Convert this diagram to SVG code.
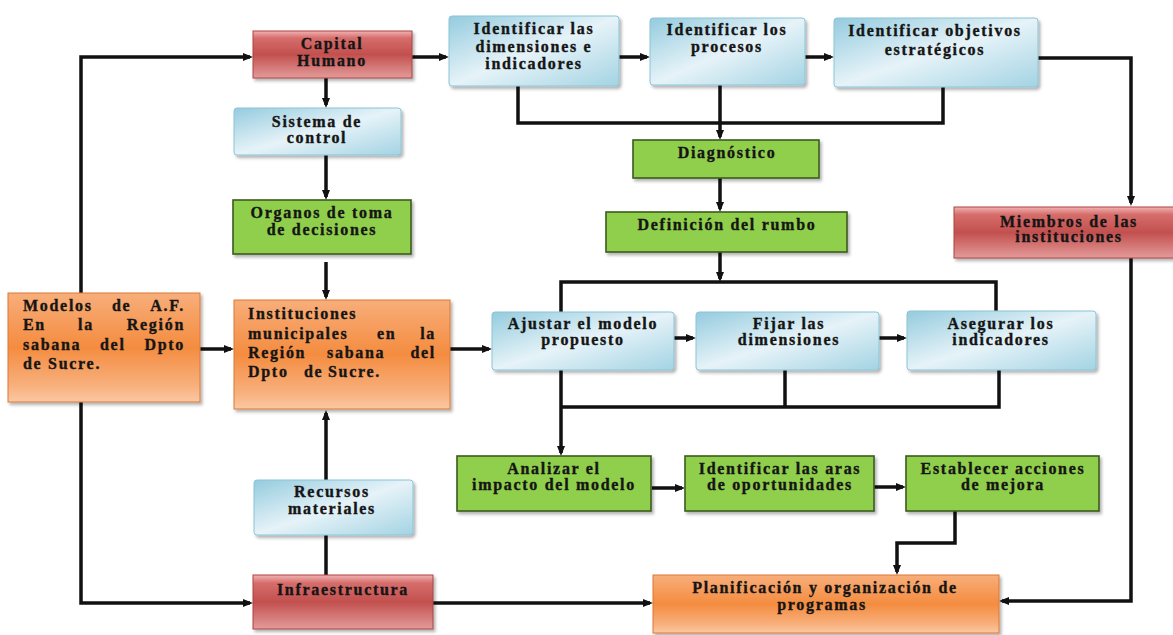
<svg xmlns="http://www.w3.org/2000/svg" width="1173" height="635" viewBox="0 0 1173 635">
<defs>
<style>
.t{font-family:"Liberation Serif","Times New Roman",serif;font-weight:bold;font-size:16px;letter-spacing:1.7px;fill:#151515;stroke:#151515;stroke-width:0.35px}
.c{text-anchor:middle}
.e{text-anchor:end}
.red{fill:url(#gRed);stroke:#a94543;stroke-width:1}
.blue{fill:url(#gBlue);stroke:#8cc4d6;stroke-width:1}
.green{fill:#90cf4c;stroke:#3c5a20;stroke-width:1.6}
.orange{fill:url(#gOrange);stroke:#d9793a;stroke-width:1}
.sh{filter:url(#shadow)}
.ln{fill:none;stroke:#111;stroke-width:3.5}
.ar{marker-end:url(#arrow)}
</style>
<linearGradient id="gRed" x1="0" y1="0" x2="0" y2="1">
<stop offset="0" stop-color="#f0b4b3"/>
<stop offset="0.15" stop-color="#d66d6b"/>
<stop offset="0.5" stop-color="#c2504e"/>
<stop offset="1" stop-color="#e39b9a"/>
</linearGradient>
<linearGradient id="gBlue" x1="0" y1="0" x2="1" y2="1">
<stop offset="0" stop-color="#94cbde"/>
<stop offset="0.5" stop-color="#e6f3f8"/>
<stop offset="1" stop-color="#a3d3e3"/>
</linearGradient>
<linearGradient id="gOrange" x1="0" y1="0" x2="0" y2="1">
<stop offset="0" stop-color="#f8ae7a"/>
<stop offset="0.5" stop-color="#f48c40"/>
<stop offset="0.85" stop-color="#f8b07d"/>
<stop offset="1" stop-color="#fbc7a2"/>
</linearGradient>
<filter id="shadow" x="-10%" y="-10%" width="130%" height="140%">
<feDropShadow dx="2" dy="2.5" stdDeviation="1.5" flood-color="#000" flood-opacity="0.3"/>
</filter>
<marker id="arrow" viewBox="0 0 10 8" markerWidth="10" markerHeight="8" refX="7" refY="4" orient="auto" markerUnits="userSpaceOnUse">
<path d="M0,0 L10,4 L0,8 z" fill="#111"/>
</marker>
</defs>
<rect width="1173" height="635" fill="#fff"/>

<g id="connectors">
<path class="ln ar" d="M81,293 V57 H250"/>
<path class="ln ar" d="M81,402 V603 H250"/>
<path class="ln ar" d="M200,349 H231"/>
<path class="ln ar" d="M326,78 V105"/>
<path class="ln ar" d="M326,155 V197"/>
<path class="ln ar" d="M326,262 V297"/>
<path class="ln ar" d="M326,480 V413"/>
<path class="ln" d="M326,535 V575"/>
<path class="ln ar" d="M433,603 H650"/>
<path class="ln ar" d="M412,57 H446"/>
<path class="ln ar" d="M619,57 H647"/>
<path class="ln ar" d="M805,57 H831"/>
<path class="ln ar" d="M1038,58 H1131 V203"/>
<path class="ln" d="M518,86 V123 H943 V87"/>
<path class="ln ar" d="M720,85 V137"/>
<path class="ln ar" d="M720,178 V209"/>
<path class="ln ar" d="M720,252 V279"/>
<path class="ln" d="M561,312 V282 H996 V311"/>
<path class="ln ar" d="M450,349 H489"/>
<path class="ln ar" d="M674,338 H693"/>
<path class="ln ar" d="M879,338 H904"/>
<path class="ln ar" d="M561,370 V453"/>
<path class="ln" d="M561,407 H999 V370"/>
<path class="ln" d="M785,370 V407"/>
<path class="ln ar" d="M652,488 H682"/>
<path class="ln ar" d="M874,487 H903"/>
<path class="ln ar" d="M955,511 V543 H897 V572"/>
<path class="ln ar" d="M1131,258 V601 H1002"/>
</g>

<g id="capital-humano">
<rect class="red sh" x="253" y="31" width="159" height="47"/>
<text class="t c" x="332" y="49">Capital</text>
<text class="t c" x="332" y="66">Humano</text>
</g>

<g id="sistema-control">
<rect class="blue sh" x="234" y="108" width="167" height="47" rx="3"/>
<text class="t c" x="317" y="127">Sistema de</text>
<text class="t c" x="317" y="143">control</text>
</g>

<g id="organos">
<rect class="green sh" x="233" y="200" width="178" height="54"/>
<text class="t c" x="322" y="218">Organos de toma</text>
<text class="t c" x="322" y="235">de decisiones</text>
</g>

<g id="modelos">
<rect class="orange sh" x="8" y="293" width="192" height="109"/>
<text class="t" x="23" y="311">Modelos</text>
<text class="t" x="112" y="311">de</text>
<text class="t e" x="185" y="311">A.F.</text>
<text class="t" x="23" y="330">En</text>
<text class="t" x="78" y="330">la</text>
<text class="t e" x="185" y="330">Región</text>
<text class="t" x="23" y="350">sabana</text>
<text class="t" x="100" y="350">del</text>
<text class="t e" x="185" y="350">Dpto</text>
<text class="t" x="23" y="369">de Sucre.</text>
</g>

<g id="instituciones">
<rect class="orange sh" x="234" y="300" width="216" height="109"/>
<text class="t" x="248" y="319">Instituciones</text>
<text class="t" x="248" y="339">municipales</text>
<text class="t" x="377" y="339">en</text>
<text class="t e" x="436" y="339">la</text>
<text class="t" x="248" y="358">Región</text>
<text class="t" x="327" y="358">sabana</text>
<text class="t e" x="436" y="358">del</text>
<text class="t" x="248" y="377">Dpto</text>
<text class="t" x="304" y="377">de</text>
<text class="t" x="328" y="377">Sucre.</text>
</g>

<g id="recursos">
<rect class="blue sh" x="254" y="480" width="159" height="55" rx="3"/>
<text class="t c" x="332" y="497">Recursos</text>
<text class="t c" x="332" y="514">materiales</text>
</g>

<g id="infraestructura">
<rect class="red sh" x="253" y="575" width="180" height="54"/>
<text class="t c" x="343" y="595">Infraestructura</text>
</g>

<g id="identificar-dimensiones">
<rect class="blue sh" x="449" y="16" width="170" height="70" rx="3"/>
<text class="t c" x="534" y="34">Identificar las</text>
<text class="t c" x="534" y="52">dimensiones e</text>
<text class="t c" x="534" y="69">indicadores</text>
</g>

<g id="identificar-procesos">
<rect class="blue sh" x="650" y="18" width="155" height="67" rx="3"/>
<text class="t c" x="727" y="35">Identificar los</text>
<text class="t c" x="727" y="52">procesos</text>
</g>

<g id="identificar-objetivos">
<rect class="blue sh" x="834" y="18" width="204" height="69" rx="3"/>
<text class="t c" x="935" y="36">Identificar objetivos</text>
<text class="t c" x="935" y="55">estratégicos</text>
</g>

<g id="diagnostico">
<rect class="green sh" x="633" y="140" width="186" height="38"/>
<text class="t c" x="727" y="158">Diagnóstico</text>
</g>

<g id="definicion-rumbo">
<rect class="green sh" x="606" y="212" width="241" height="40"/>
<text class="t c" x="727" y="230">Definición del rumbo</text>
</g>

<g id="miembros">
<rect class="red sh" x="954" y="207" width="232" height="51"/>
<text class="t c" x="1069" y="227">Miembros de las</text>
<text class="t c" x="1069" y="242">instituciones</text>
</g>

<g id="ajustar-modelo">
<rect class="blue sh" x="492" y="312" width="182" height="58" rx="3"/>
<text class="t c" x="583" y="329">Ajustar el modelo</text>
<text class="t c" x="583" y="345">propuesto</text>
</g>

<g id="fijar-dimensiones">
<rect class="blue sh" x="696" y="312" width="183" height="58" rx="3"/>
<text class="t c" x="789" y="329">Fijar las</text>
<text class="t c" x="789" y="345">dimensiones</text>
</g>

<g id="asegurar-indicadores">
<rect class="blue sh" x="907" y="311" width="189" height="59" rx="3"/>
<text class="t c" x="1001" y="329">Asegurar los</text>
<text class="t c" x="1001" y="345">indicadores</text>
</g>

<g id="analizar-impacto">
<rect class="green sh" x="457" y="456" width="194" height="55"/>
<text class="t c" x="554" y="474">Analizar el</text>
<text class="t c" x="554" y="490">impacto del modelo</text>
</g>

<g id="identificar-areas">
<rect class="green sh" x="685" y="456" width="189" height="55"/>
<text class="t c" x="780" y="474">Identificar las aras</text>
<text class="t c" x="780" y="490">de oportunidades</text>
</g>

<g id="establecer-acciones">
<rect class="green sh" x="906" y="456" width="193" height="55"/>
<text class="t c" x="1003" y="474">Establecer acciones</text>
<text class="t c" x="1003" y="490">de mejora</text>
</g>

<g id="planificacion">
<rect class="orange sh" x="653" y="575" width="346" height="58"/>
<text class="t c" x="825" y="593">Planificación y organización de</text>
<text class="t c" x="822" y="610">programas</text>
</g>
</svg>
